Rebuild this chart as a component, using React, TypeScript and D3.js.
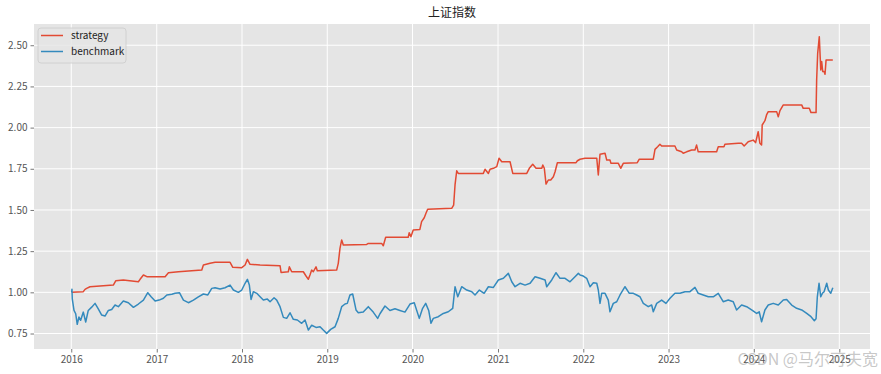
import { useEffect, useRef } from 'react';
import * as d3 from 'd3';

// [decimal year, value]
const strategy: [number, number][] = [
  [2016.005, 1.0], [2016.141, 1.004], [2016.161, 1.018], [2016.18, 1.024], [2016.219, 1.034],
  [2016.492, 1.044], [2016.52, 1.07], [2016.609, 1.075], [2016.785, 1.064], [2016.805, 1.079],
  [2016.844, 1.105], [2016.884, 1.095], [2017.098, 1.095], [2017.137, 1.119], [2017.254, 1.125],
  [2017.528, 1.135], [2017.547, 1.166], [2017.625, 1.176], [2017.684, 1.182], [2017.86, 1.182],
  [2017.892, 1.152], [2017.997, 1.15], [2018.036, 1.166], [2018.063, 1.2], [2018.094, 1.17],
  [2018.212, 1.166], [2018.446, 1.162], [2018.458, 1.121], [2018.543, 1.125], [2018.555, 1.155],
  [2018.583, 1.125], [2018.719, 1.125], [2018.751, 1.099], [2018.778, 1.079], [2018.797, 1.105],
  [2018.817, 1.135], [2018.836, 1.125], [2018.868, 1.155], [2018.883, 1.131], [2019.11, 1.135],
  [2019.129, 1.176], [2019.149, 1.267], [2019.169, 1.318], [2019.188, 1.287], [2019.462, 1.291],
  [2019.481, 1.297], [2019.638, 1.297], [2019.657, 1.283], [2019.685, 1.334], [2019.949, 1.334],
  [2019.961, 1.362], [2019.981, 1.338], [2020.008, 1.378], [2020.086, 1.382], [2020.106, 1.429],
  [2020.137, 1.453], [2020.157, 1.48], [2020.177, 1.504], [2020.458, 1.51], [2020.481, 1.53],
  [2020.497, 1.652], [2020.517, 1.738], [2020.535, 1.722], [2020.828, 1.722], [2020.848, 1.747],
  [2020.887, 1.722], [2020.907, 1.747], [2020.946, 1.753], [2020.985, 1.763], [2021.012, 1.814],
  [2021.044, 1.793], [2021.141, 1.793], [2021.173, 1.722], [2021.337, 1.722], [2021.367, 1.753],
  [2021.407, 1.777], [2021.446, 1.753], [2021.513, 1.753], [2021.525, 1.773], [2021.543, 1.753],
  [2021.563, 1.657], [2021.59, 1.682], [2021.618, 1.682], [2021.649, 1.702], [2021.669, 1.732],
  [2021.696, 1.787], [2021.915, 1.787], [2021.931, 1.799], [2021.962, 1.808], [2022.02, 1.814],
  [2022.158, 1.814], [2022.176, 1.712], [2022.196, 1.838], [2022.255, 1.844], [2022.275, 1.803],
  [2022.313, 1.803], [2022.325, 1.783], [2022.411, 1.783], [2022.439, 1.753], [2022.469, 1.783],
  [2022.633, 1.787], [2022.657, 1.808], [2022.821, 1.808], [2022.841, 1.868], [2022.872, 1.884],
  [2022.899, 1.899], [2022.919, 1.888], [2023.075, 1.888], [2023.095, 1.864], [2023.154, 1.853],
  [2023.172, 1.844], [2023.212, 1.853], [2023.271, 1.864], [2023.31, 1.864], [2023.329, 1.894],
  [2023.348, 1.853], [2023.564, 1.853], [2023.583, 1.884], [2023.65, 1.884], [2023.661, 1.899],
  [2023.817, 1.905], [2023.857, 1.905], [2023.887, 1.888], [2023.934, 1.914], [2023.993, 1.924],
  [2024.021, 1.909], [2024.051, 1.975], [2024.071, 1.905], [2024.091, 1.894], [2024.098, 2.016],
  [2024.13, 2.042], [2024.149, 2.077], [2024.169, 2.097], [2024.267, 2.097], [2024.286, 2.066],
  [2024.306, 2.103], [2024.345, 2.138], [2024.56, 2.138], [2024.578, 2.117], [2024.649, 2.117],
  [2024.669, 2.091], [2024.728, 2.091], [2024.735, 2.289], [2024.747, 2.451], [2024.766, 2.552],
  [2024.783, 2.35], [2024.794, 2.401], [2024.806, 2.34], [2024.822, 2.34], [2024.833, 2.324],
  [2024.845, 2.41], [2024.924, 2.41],
];

const benchmark: [number, number][] = [
  [2016.005, 1.0], [2016.008, 1.018], [2016.012, 0.96], [2016.032, 0.89], [2016.052, 0.87],
  [2016.07, 0.806], [2016.09, 0.85], [2016.11, 0.83], [2016.141, 0.88], [2016.169, 0.82],
  [2016.199, 0.89], [2016.239, 0.91], [2016.278, 0.933], [2016.316, 0.9], [2016.356, 0.862],
  [2016.395, 0.856], [2016.434, 0.89], [2016.473, 0.896], [2016.512, 0.923], [2016.551, 0.913],
  [2016.609, 0.947], [2016.668, 0.937], [2016.727, 0.909], [2016.785, 0.929], [2016.844, 0.953],
  [2016.895, 0.998], [2016.934, 0.973], [2016.981, 0.947], [2017.028, 0.953], [2017.078, 0.964],
  [2017.118, 0.984], [2017.177, 0.988], [2017.215, 0.994], [2017.266, 0.998], [2017.313, 0.953],
  [2017.371, 0.937], [2017.43, 0.953], [2017.488, 0.973], [2017.547, 0.99], [2017.599, 0.984],
  [2017.645, 1.024], [2017.684, 1.028], [2017.743, 1.02], [2017.801, 1.028], [2017.86, 1.044],
  [2017.899, 1.014], [2017.957, 1.0], [2017.997, 1.014], [2018.036, 1.055], [2018.063, 1.079],
  [2018.086, 1.044], [2018.106, 0.957], [2018.133, 1.004], [2018.173, 0.994], [2018.212, 0.973],
  [2018.25, 0.953], [2018.297, 0.959], [2018.329, 0.943], [2018.376, 0.967], [2018.407, 0.953],
  [2018.446, 0.913], [2018.485, 0.848], [2018.524, 0.842], [2018.563, 0.876], [2018.602, 0.836],
  [2018.649, 0.832], [2018.7, 0.812], [2018.739, 0.832], [2018.778, 0.771], [2018.817, 0.8],
  [2018.868, 0.787], [2018.915, 0.791], [2018.953, 0.771], [2018.993, 0.751], [2019.04, 0.775],
  [2019.091, 0.791], [2019.129, 0.842], [2019.169, 0.913], [2019.208, 0.929], [2019.235, 0.933],
  [2019.266, 0.984], [2019.298, 0.99], [2019.337, 0.893], [2019.364, 0.876], [2019.422, 0.88],
  [2019.481, 0.913], [2019.539, 0.88], [2019.591, 0.842], [2019.618, 0.87], [2019.677, 0.917],
  [2019.735, 0.89], [2019.794, 0.9], [2019.852, 0.89], [2019.911, 0.88], [2019.97, 0.929],
  [2020.02, 0.937], [2020.079, 0.842], [2020.118, 0.903], [2020.154, 0.933], [2020.189, 0.89],
  [2020.216, 0.812], [2020.243, 0.842], [2020.301, 0.852], [2020.36, 0.872], [2020.418, 0.882],
  [2020.47, 0.903], [2020.497, 1.034], [2020.529, 0.973], [2020.575, 1.034], [2020.634, 1.014],
  [2020.693, 1.004], [2020.731, 0.984], [2020.782, 1.014], [2020.837, 0.994], [2020.887, 1.034],
  [2020.946, 1.03], [2021.004, 1.075], [2021.063, 1.085], [2021.121, 1.115], [2021.161, 1.064],
  [2021.2, 1.034], [2021.258, 1.055], [2021.317, 1.044], [2021.376, 1.055], [2021.434, 1.095],
  [2021.493, 1.085], [2021.552, 1.075], [2021.571, 1.034], [2021.63, 1.075], [2021.68, 1.119],
  [2021.727, 1.085], [2021.786, 1.085], [2021.844, 1.064], [2021.903, 1.095], [2021.942, 1.115],
  [2021.962, 1.105], [2022.0, 1.099], [2022.04, 1.085], [2022.079, 1.034], [2022.118, 1.058],
  [2022.158, 1.055], [2022.176, 1.014], [2022.196, 0.933], [2022.216, 0.994], [2022.255, 0.994],
  [2022.293, 0.953], [2022.313, 0.882], [2022.352, 0.933], [2022.392, 0.943], [2022.431, 0.984],
  [2022.489, 1.034], [2022.54, 0.994], [2022.587, 0.994], [2022.626, 0.984], [2022.665, 0.973],
  [2022.704, 0.933], [2022.762, 0.913], [2022.802, 0.923], [2022.821, 0.882], [2022.861, 0.933],
  [2022.919, 0.953], [2022.97, 0.933], [2023.017, 0.964], [2023.075, 0.994], [2023.134, 0.994],
  [2023.193, 1.004], [2023.251, 1.004], [2023.31, 1.03], [2023.348, 0.994], [2023.407, 0.984],
  [2023.466, 0.973], [2023.524, 0.973], [2023.583, 0.994], [2023.641, 0.943], [2023.7, 0.953],
  [2023.759, 0.943], [2023.798, 0.893], [2023.857, 0.923], [2023.916, 0.913], [2023.974, 0.893],
  [2024.033, 0.872], [2024.063, 0.882], [2024.091, 0.821], [2024.13, 0.893], [2024.169, 0.923],
  [2024.227, 0.933], [2024.286, 0.923], [2024.345, 0.953], [2024.384, 0.957], [2024.443, 0.923],
  [2024.501, 0.903], [2024.56, 0.893], [2024.619, 0.872], [2024.669, 0.852], [2024.708, 0.828],
  [2024.728, 0.84], [2024.743, 0.973], [2024.763, 1.055], [2024.783, 0.973], [2024.802, 0.994],
  [2024.822, 1.004], [2024.853, 1.055], [2024.872, 1.014], [2024.9, 0.994], [2024.924, 1.028],
];

const seriesNames = ['strategy', 'benchmark'];
const seriesColors = ['#E24A33', '#348ABD'];
const yTicks = [0.75, 1.0, 1.25, 1.5, 1.75, 2.0, 2.25, 2.5];
const title = '上证指数';
const watermark = 'CSDN @马尔可夫宽';

const WIDTH = 881;
const HEIGHT = 374;
const FONT = "'Noto Sans CJK SC', 'DejaVu Sans', sans-serif";

// decimal year -> UTC date
function toDate(y: number) {
  const yr = Math.floor(y);
  const start = Date.UTC(yr, 0, 1);
  const end = Date.UTC(yr + 1, 0, 1);
  return new Date(start + (y - yr) * (end - start));
}

export default function App() {
  const svgRef = useRef<SVGSVGElement>(null);

  useEffect(() => {
    document.body.style.margin = '0';
    if (!svgRef.current) return;
    const svg = d3.select(svgRef.current);
    svg.selectAll('*').remove();

    const margin = { top: 24, right: 11, bottom: 25, left: 34 };
    const width = WIDTH - margin.left - margin.right;
    const height = HEIGHT - margin.top - margin.bottom;

    svg.append('rect').attr('width', WIDTH).attr('height', HEIGHT).attr('fill', '#fff');

    const g = svg.append('g').attr('transform', `translate(${margin.left},${margin.top})`);

    const x = d3.scaleUtc()
      .domain([toDate(2015.563), toDate(2025.36)])
      .range([0, width]);
    const y = d3.scaleLinear()
      .domain([0.656, 2.629])
      .range([height, 0]);

    // panel
    g.append('rect').attr('width', width).attr('height', height).attr('fill', '#E5E5E5');

    const xTicks = x.ticks(d3.utcYear.every(1)!);

    // grid
    g.append('g').selectAll('line').data(xTicks).join('line')
      .attr('x1', d => x(d)).attr('x2', d => x(d))
      .attr('y1', 0).attr('y2', height)
      .attr('stroke', '#fff').attr('stroke-width', 1);
    g.append('g').selectAll('line').data(yTicks).join('line')
      .attr('x1', 0).attr('x2', width)
      .attr('y1', d => y(d)).attr('y2', d => y(d))
      .attr('stroke', '#fff').attr('stroke-width', 1);

    // axes
    const xAxis = g.append('g')
      .attr('transform', `translate(0,${height})`)
      .call(d3.axisBottom(x).tickValues(xTicks).tickFormat(d3.utcFormat('%Y') as any).tickSize(3.5).tickPadding(3));
    const yAxis = g.append('g')
      .call(d3.axisLeft(y).tickValues(yTicks).tickFormat(d3.format('.2f')).tickSize(3.5).tickPadding(3));
    [xAxis, yAxis].forEach(a => {
      a.select('.domain').remove();
      a.selectAll('line').attr('stroke', '#555555').attr('stroke-width', 0.8);
      a.selectAll('text').attr('fill', '#555555').style('font-size', '10px').style('font-family', FONT);
    });

    // lines
    const line = d3.line<[number, number]>()
      .x(d => x(toDate(d[0])))
      .y(d => y(d[1]));

    [strategy, benchmark].forEach((s, i) => {
      g.append('path')
        .datum(s)
        .attr('fill', 'none')
        .attr('stroke', seriesColors[i])
        .attr('stroke-width', 1.5)
        .attr('stroke-linejoin', 'round')
        .attr('d', line);
    });

    // legend
    const legend = g.append('g').attr('transform', 'translate(4,4)');
    legend.append('rect')
      .attr('width', 88).attr('height', 35).attr('rx', 3)
      .attr('fill', '#E5E5E5').attr('fill-opacity', 0.8)
      .attr('stroke', '#cccccc').attr('stroke-width', 0.8);
    seriesNames.forEach((name, i) => {
      const ly = 7.5 + i * 16;
      legend.append('line')
        .attr('x1', 3).attr('x2', 25).attr('y1', ly).attr('y2', ly)
        .attr('stroke', seriesColors[i]).attr('stroke-width', 1.5);
      legend.append('text')
        .attr('x', 33).attr('y', ly).attr('dy', '0.35em')
        .text(name)
        .style('font-size', '10px')
        .style('font-family', FONT)
        .attr('fill', '#222');
    });

    // title
    svg.append('text')
      .attr('x', margin.left + width / 2).attr('y', 17)
      .attr('text-anchor', 'middle')
      .text(title)
      .style('font-size', '12px')
      .style('font-family', FONT)
      .attr('fill', '#222');

    // watermark
    svg.append('text')
      .attr('x', 878).attr('y', 365)
      .attr('text-anchor', 'end')
      .text(watermark)
      .style('font-size', '16px')
      .style('font-family', FONT)
      .attr('fill', '#999')
      .attr('fill-opacity', 0.55);
  }, []);

  return (
    <div style={{ width: WIDTH, height: HEIGHT }}>
      <svg ref={svgRef} width={WIDTH} height={HEIGHT} style={{ display: 'block' }} />
    </div>
  );
}
